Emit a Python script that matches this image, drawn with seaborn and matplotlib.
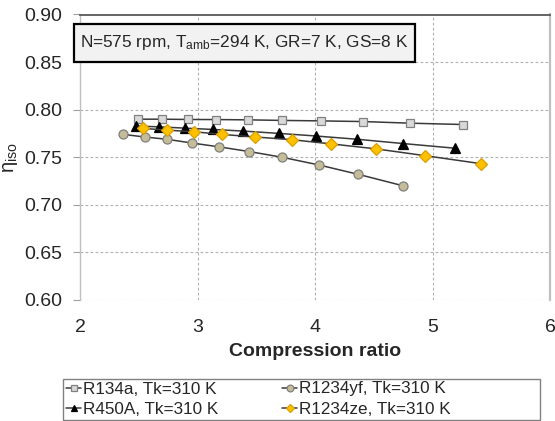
import matplotlib
matplotlib.use("Agg")
import matplotlib.pyplot as plt
import seaborn as sns
import pandas as pd
from matplotlib.patches import Rectangle

# ---- data ----
r134a_x = [2.49, 2.70, 2.92, 3.16, 3.43, 3.72, 4.05, 4.41, 4.81, 5.26]
r134a_y = [0.790, 0.790, 0.7897, 0.7896, 0.7893, 0.7887, 0.7882, 0.7875, 0.7858, 0.7844]

r1234yf_x = [2.37, 2.55, 2.74, 2.95, 3.18, 3.44, 3.72, 4.03, 4.37, 4.75]
r1234yf_y = [0.774, 0.7713, 0.7689, 0.765, 0.761, 0.756, 0.750, 0.742, 0.732, 0.720]

r450a_x = [2.48, 2.67, 2.89, 3.13, 3.39, 3.69, 4.01, 4.36, 4.75, 5.19]
r450a_y = [0.7827, 0.782, 0.7806, 0.7792, 0.7775, 0.7751, 0.7723, 0.7689, 0.7644, 0.7595]

r1234ze_x = [2.54, 2.74, 2.97, 3.21, 3.49, 3.80, 4.14, 4.52, 4.94, 5.41]
r1234ze_y = [0.7803, 0.7785, 0.7768, 0.7740, 0.7713, 0.7685, 0.7640, 0.7588, 0.7516, 0.7433]

labels = ["R134a, Tk=310 K", "R1234yf, Tk=310 K", "R450A, Tk=310 K", "R1234ze, Tk=310 K"]
x_ticks = [2, 3, 4, 5, 6]
y_ticks = [0.60, 0.65, 0.70, 0.75, 0.80, 0.85, 0.90]
annotation = r"N=575 rpm, T$_{\mathregular{amb}}$=294 K, GR=7 K, GS=8 K"
xlabel = "Compression ratio"
ylabel = r"$\mathregular{\eta_{iso}}$"

sns.set_style("white")
plt.rcParams["font.family"] = ["Liberation Sans", "DejaVu Sans"]
plt.rcParams["mathtext.fontset"] = "custom"
plt.rcParams["mathtext.rm"] = "Liberation Sans"
plt.rcParams["mathtext.it"] = "Liberation Sans:italic"
plt.rcParams["mathtext.bf"] = "Liberation Sans:bold"

fig = plt.figure(figsize=(5.55, 4.21), dpi=100)
ax = fig.add_axes([80 / 555, 1 - 300 / 421, 470 / 555, (300 - 14.5) / 421])

series = [
    (r134a_x, r134a_y, "s", "#d9d9d9", "#808080", 6.3),
    (r1234yf_x, r1234yf_y, "o", "#c4bd97", "#7f7f7f", 6.5),
    (r450a_x, r450a_y, "^", "#000000", "#000000", 6.5),
    (r1234ze_x, r1234ze_y, "D", "#ffc000", "#d9a000", 6.0),
]

for (xs, ys, mk, fc, ec, ms), lab in zip(series, labels):
    df = pd.DataFrame({"x": xs, "y": ys})
    sns.lineplot(data=df, x="x", y="y", ax=ax, sort=False, estimator=None,
                 color="#3a3a3a", linewidth=1.1, marker=mk, markersize=ms,
                 markerfacecolor=fc, markeredgecolor=ec, markeredgewidth=0.9,
                 label=lab, zorder=3)

ax.set_xlim(2, 6)
ax.set_ylim(0.60, 0.90)
ax.set_xticks(x_ticks)
ax.set_yticks(y_ticks)
ax.set_xticklabels([str(t) for t in x_ticks])
ax.set_yticklabels([f"{t:.2f}" for t in y_ticks])

ax.grid(True, color="#b0b0b0", linestyle=(0, (2.5, 2)), linewidth=0.8)
ax.set_axisbelow(True)

ax.spines["bottom"].set_visible(False)
ax.spines["top"].set_color("#595959")
ax.spines["top"].set_linewidth(1.3)
ax.spines["right"].set_color("#c0c0c0")
ax.spines["right"].set_linewidth(1.6)
ax.spines["left"].set_color("#c0c0c0")
ax.spines["left"].set_linewidth(1.0)

ax.tick_params(axis="y", which="both", length=5, width=0.8, color="#a0a0a0",
               direction="out", labelsize=14, pad=8, left=True)
ax.tick_params(axis="x", which="both", length=0, labelsize=14, pad=14)

ax.set_xlabel(xlabel, fontsize=14, fontweight="bold", labelpad=5)
ax.set_ylabel(ylabel, fontsize=14.5, labelpad=3)

# annotation box (extends slightly left of the axes)
box_l, box_r, box_t, box_b = 74, 415, 24, 62
fig.patches.append(Rectangle((box_l / 555, 1 - box_b / 421),
                             (box_r - box_l) / 555, (box_b - box_t) / 421,
                             transform=fig.transFigure, facecolor="#f2f2f2",
                             edgecolor="#000000", linewidth=1.6, zorder=5))
fig.text((box_l + box_r) / 2 / 555, 1 - 43 / 421, annotation, fontsize=12.4,
         ha="center", va="center", zorder=6)

# legend frame
leg_l, leg_r, leg_t, leg_b = 63, 540, 379, 420
fig.patches.append(Rectangle((leg_l / 555, 1 - leg_b / 421),
                             (leg_r - leg_l) / 555, (leg_b - leg_t) / 421,
                             transform=fig.transFigure, facecolor="white",
                             edgecolor="#808080", linewidth=1.0, zorder=1))

handles, labs = ax.get_legend_handles_labels()
ax.get_legend().remove()
order = [0, 2, 1, 3]
leg = fig.legend([handles[i] for i in order], [labs[i] for i in order],
                 ncol=2, loc="upper left",
                 bbox_to_anchor=(66 / 555, 1 - 381.5 / 421),
                 fontsize=12.3, frameon=False, handlelength=0.9,
                 handletextpad=0.12, borderpad=0, labelspacing=0.3,
                 columnspacing=3.7, markerscale=0.75, borderaxespad=0)

fig.savefig("out.png", dpi=100)
